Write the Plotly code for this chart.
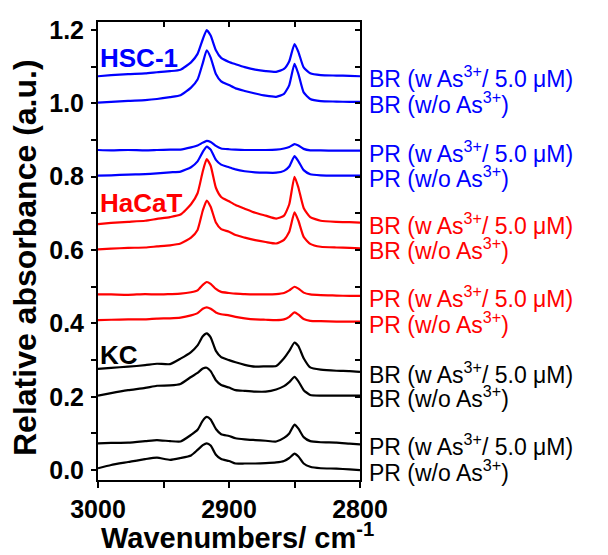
import plotly.graph_objects as go

wavenumbers = [3000, 2990, 2977, 2964, 2955, 2945, 2937, 2929, 2924, 2920, 2917, 2914, 2910, 2906, 2900,
               2895, 2888, 2880, 2872, 2864, 2858, 2854, 2850, 2847, 2843, 2838, 2830, 2818, 2808, 2800]

hsc_br_w = [1.074, 1.077, 1.080, 1.082, 1.085, 1.088, 1.092, 1.112, 1.135, 1.175, 1.200, 1.185, 1.145, 1.124, 1.113,
            1.107, 1.099, 1.092, 1.088, 1.086, 1.094, 1.115, 1.162, 1.140, 1.098, 1.082, 1.077, 1.076, 1.075, 1.074]
hsc_br_wo = [1.002, 1.004, 1.007, 1.009, 1.012, 1.017, 1.022, 1.043, 1.065, 1.110, 1.145, 1.125, 1.080, 1.060, 1.050,
             1.041, 1.034, 1.027, 1.021, 1.018, 1.026, 1.050, 1.108, 1.080, 1.030, 1.012, 1.006, 1.005, 1.004, 1.004]
hsc_pr_w = [0.873, 0.872, 0.873, 0.872, 0.873, 0.874, 0.874, 0.880, 0.885, 0.893, 0.898, 0.895, 0.884, 0.877, 0.875,
            0.874, 0.873, 0.873, 0.873, 0.874, 0.877, 0.881, 0.889, 0.885, 0.876, 0.872, 0.872, 0.871, 0.871, 0.871]
hsc_pr_wo = [0.803, 0.804, 0.806, 0.807, 0.809, 0.812, 0.814, 0.826, 0.842, 0.868, 0.882, 0.874, 0.846, 0.833, 0.826,
             0.820, 0.815, 0.812, 0.811, 0.811, 0.816, 0.828, 0.856, 0.842, 0.818, 0.807, 0.804, 0.803, 0.803, 0.803]
hacat_br_w = [0.671, 0.674, 0.677, 0.680, 0.685, 0.690, 0.697, 0.725, 0.755, 0.815, 0.848, 0.830, 0.770, 0.745, 0.733,
              0.723, 0.713, 0.702, 0.694, 0.686, 0.694, 0.725, 0.800, 0.770, 0.715, 0.690, 0.680, 0.677, 0.676, 0.675]
hacat_br_wo = [0.602, 0.604, 0.606, 0.607, 0.610, 0.613, 0.618, 0.634, 0.655, 0.708, 0.735, 0.718, 0.675, 0.657, 0.650,
               0.641, 0.634, 0.627, 0.622, 0.618, 0.628, 0.650, 0.703, 0.680, 0.636, 0.617, 0.609, 0.607, 0.606, 0.605]
hacat_pr_w = [0.479, 0.479, 0.478, 0.480, 0.479, 0.480, 0.481, 0.485, 0.490, 0.505, 0.513, 0.508, 0.494, 0.486, 0.483,
              0.481, 0.480, 0.479, 0.479, 0.480, 0.483, 0.490, 0.500, 0.495, 0.484, 0.479, 0.477, 0.476, 0.475, 0.475]
hacat_pr_wo = [0.409, 0.410, 0.411, 0.411, 0.413, 0.414, 0.416, 0.422, 0.428, 0.440, 0.444, 0.440, 0.430, 0.425, 0.422,
               0.418, 0.414, 0.411, 0.410, 0.409, 0.411, 0.418, 0.430, 0.424, 0.412, 0.407, 0.406, 0.405, 0.405, 0.405]
kc_br_w = [0.276, 0.279, 0.282, 0.286, 0.290, 0.289, 0.304, 0.322, 0.340, 0.365, 0.373, 0.362, 0.325, 0.308, 0.300,
           0.294, 0.287, 0.282, 0.283, 0.284, 0.305, 0.325, 0.348, 0.338, 0.305, 0.280, 0.274, 0.271, 0.270, 0.268]
kc_br_wo = [0.203, 0.210, 0.218, 0.224, 0.230, 0.231, 0.235, 0.254, 0.265, 0.277, 0.279, 0.270, 0.245, 0.232, 0.225,
            0.218, 0.216, 0.214, 0.214, 0.220, 0.229, 0.240, 0.254, 0.242, 0.218, 0.205, 0.203, 0.203, 0.203, 0.203]
kc_pr_w = [0.073, 0.074, 0.075, 0.079, 0.082, 0.079, 0.078, 0.096, 0.110, 0.135, 0.145, 0.138, 0.112, 0.098, 0.093,
           0.087, 0.084, 0.082, 0.080, 0.078, 0.088, 0.100, 0.124, 0.113, 0.090, 0.079, 0.076, 0.075, 0.072, 0.070]
kc_pr_wo = [0.005, 0.014, 0.022, 0.030, 0.034, 0.028, 0.033, 0.040, 0.055, 0.068, 0.073, 0.067, 0.042, 0.030, 0.025,
            0.018, 0.018, 0.018, 0.019, 0.021, 0.025, 0.033, 0.045, 0.037, 0.018, 0.009, 0.005, 0.004, 0.002, 0.000]

series = [
    (hsc_br_w, "#0000FF", "BR (w As<sup>3+</sup>/ 5.0 μM)"),
    (hsc_br_wo, "#0000FF", "BR (w/o As<sup>3+</sup>)"),
    (hsc_pr_w, "#0000FF", "PR (w As<sup>3+</sup>/ 5.0 μM)"),
    (hsc_pr_wo, "#0000FF", "PR (w/o As<sup>3+</sup>)"),
    (hacat_br_w, "#FF0000", "BR (w As<sup>3+</sup>/ 5.0 μM)"),
    (hacat_br_wo, "#FF0000", "BR (w/o As<sup>3+</sup>)"),
    (hacat_pr_w, "#FF0000", "PR (w As<sup>3+</sup>/ 5.0 μM)"),
    (hacat_pr_wo, "#FF0000", "PR (w/o As<sup>3+</sup>)"),
    (kc_br_w, "#000000", "BR (w As<sup>3+</sup>/ 5.0 μM)"),
    (kc_br_wo, "#000000", "BR (w/o As<sup>3+</sup>)"),
    (kc_pr_w, "#000000", "PR (w As<sup>3+</sup>/ 5.0 μM)"),
    (kc_pr_wo, "#000000", "PR (w/o As<sup>3+</sup>)"),
]

groups = [("HSC-1", "#0000FF", 1.124), ("HaCaT", "#FF0000", 0.728), ("KC", "#000000", 0.314)]

x_title = "Wavenumbers/ cm<sup>-1</sup>"
y_title = "Relative absorbance (a.u.)"

FONT = "Liberation Sans, Arial, sans-serif"

# page body has an 8px margin: figure is 600x547 so the plot lands at 98..360 x 22..480 on the page
W, H = 600, 547
ML, MR, MT, MB = 90, 248, 14, 75
PW, PH = W - ML - MR, H - MT - MB

fig = go.Figure()
annotations = []
for vals, color, label in series:
    fig.add_trace(go.Scatter(x=wavenumbers, y=vals, mode="lines",
                             line=dict(color=color, width=2.2, shape="spline", smoothing=0.5),
                             showlegend=False, hoverinfo="skip"))
    annotations.append(dict(xref="paper", yref="y", x=1.0, y=vals[-1], xanchor="left", yanchor="middle",
                            xshift=7, yshift=-1, text=label, showarrow=False,
                            font=dict(family=FONT, size=23, color=color)))

for name, color, yv in groups:
    annotations.append(dict(xref="paper", yref="y", x=0.0, y=yv, xanchor="left", yanchor="middle",
                            xshift=0, text=name, showarrow=False,
                            font=dict(family=FONT, size=26, color=color, weight="bold")))

# axis titles
annotations.append(dict(xref="paper", yref="paper", x=(237 - 8 - ML) / PW, y=-MB / PH,
                        xanchor="center", yanchor="bottom", yshift=-1, text=x_title, showarrow=False,
                        font=dict(family=FONT, size=29, color="black", weight="bold")))
annotations.append(dict(xref="paper", yref="paper", x=(25 - 8 - ML) / PW, y=(MT + PH - (258 - 8)) / PH,
                        xanchor="center", yanchor="middle", textangle=-90, text=y_title, showarrow=False,
                        font=dict(family=FONT, size=32, color="black", weight="bold")))

fig.add_trace(go.Scatter(x=[3000], y=[0], xaxis="x2", yaxis="y2", mode="markers",
                         marker=dict(opacity=0), showlegend=False, hoverinfo="skip"))

xr = [3000, 2800]
yr = [-0.027, 1.222]

fig.update_layout(
    width=W, height=H,
    margin=dict(l=ML, r=MR, t=MT, b=MB),
    paper_bgcolor="white", plot_bgcolor="white",
    annotations=annotations,
    xaxis=dict(range=xr, tickvals=[3000, 2900, 2800], ticks="outside", ticklen=6, tickwidth=1.5,
               tickcolor="black", showline=True, linecolor="black", linewidth=2, mirror=True,
               showgrid=False, zeroline=False, automargin=False,
               minor=dict(tickvals=[2950, 2850], ticks="outside", ticklen=6, tickwidth=1.5, tickcolor="black"),
               tickfont=dict(family=FONT, size=25, color="black", weight="bold")),
    yaxis=dict(range=yr, tickvals=[0, 0.2, 0.4, 0.6, 0.8, 1.0, 1.2], tickformat=".1f",
               ticks="outside", ticklen=5, tickwidth=1.5, tickcolor="black",
               showline=True, linecolor="black", linewidth=2, mirror=True,
               showgrid=False, zeroline=False, automargin=False, ticklabelstandoff=2,
               minor=dict(tickvals=[0.1, 0.3, 0.5, 0.7, 0.9, 1.1], ticks="outside", ticklen=5,
                          tickwidth=1.5, tickcolor="black"),
               tickfont=dict(family=FONT, size=25, color="black", weight="bold")),
    xaxis2=dict(range=xr, overlaying="x", side="top", anchor="y2", showticklabels=False,
                tickvals=[2950, 2900, 2850], ticks="inside", ticklen=5, tickwidth=1.5, tickcolor="black",
                showgrid=False, zeroline=False, showline=False, automargin=False),
    yaxis2=dict(range=yr, overlaying="y", side="right", anchor="x2", showticklabels=False,
                tickvals=[0.1, 0.2, 0.3, 0.4, 0.5, 0.6, 0.7, 0.8, 0.9, 1.0, 1.1, 1.2],
                ticks="inside", ticklen=5, tickwidth=1.5, tickcolor="black",
                showgrid=False, zeroline=False, showline=False, automargin=False),
)

fig.write_html("out.html")
